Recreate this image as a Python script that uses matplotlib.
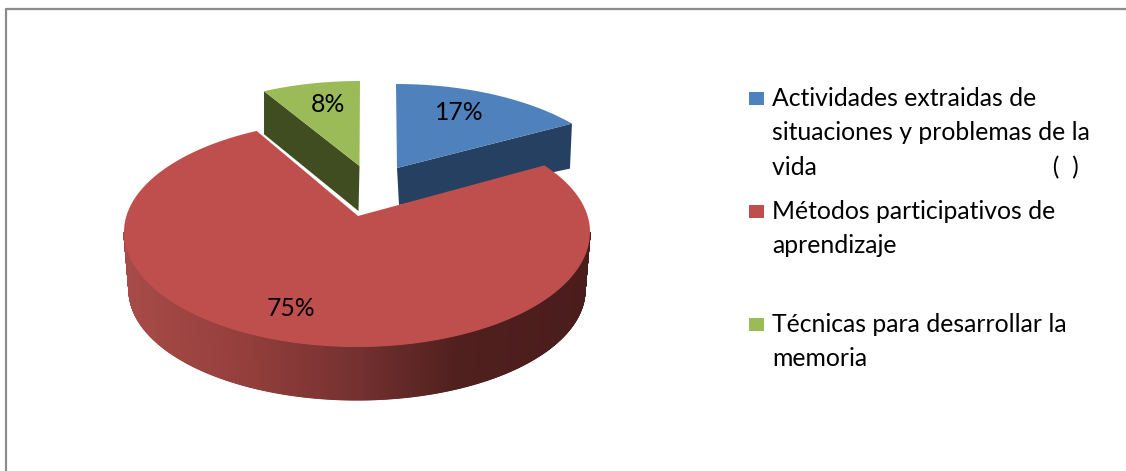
import numpy as np
import matplotlib
matplotlib.use("Agg")
import matplotlib.pyplot as plt
from matplotlib.colors import LinearSegmentedColormap

labels = ["Actividades extraidas de\nsituaciones y problemas de la\nvida" + " " * 37 + "(  )",
          "Métodos participativos de\naprendizaje",
          "Técnicas para desarrollar la\nmemoria"]
values = [17, 75, 8]
colors = ["#4F81BD", "#BE4F4C", "#9BBB59"]
wall_colors = ["#254061", "#7A302E", "#3F4D21"]

fig = plt.figure(figsize=(11.26, 4.71), dpi=100)
ax = fig.add_axes([0, 0, 1, 1])
ax.set_xlim(0, 1126)
ax.set_ylim(471, 0)
ax.axis("off")
FONT = "Lato"

# border (only top and left are visible in the crop)
ax.plot([6, 6, 1126], [471, 9, 9], color="#8c8c8c", lw=1.6, solid_capstyle="butt")

RX, RY = 233, 115
fractions = np.cumsum([0] + values) / sum(values) * 360.0
spans = {i: (fractions[i], fractions[i + 1]) for i in range(3)}


def warp(theta, rot, b):
    """Perspective skew of true pie angle to ellipse parameter (deg)."""
    return theta + rot - b * np.sin(np.radians(2 * theta))


def rim(theta, cx, cy, rx=RX, ry=RY, back_ry=None):
    t = np.radians(theta)
    c = np.cos(t)
    radius_y = np.where(c > 0, ry if back_ry is None else back_ry, ry)
    return np.column_stack([cx + rx * np.sin(t), cy - radius_y * c])


def top_poly(i, cx, cy, apex, rot, b, back_ry=None):
    th = np.linspace(*spans[i], 300)
    return np.vstack([[apex], rim(warp(th, rot, b), cx, cy, back_ry=back_ry)])


# green slice (back left)
g_c, g_apex = (360, 196), (359.5, 166)
g_pts = top_poly(2, *g_c, g_apex, 0, 5.3)
g_end = rim(np.array([warp(spans[2][0], 0, 5.3)]), *g_c)[0]
ax.fill([g_end[0], g_apex[0], g_apex[0] - 1, g_end[0]],
        [g_end[1], g_apex[1], g_apex[1] + 45, g_end[1] + 43],
        color=wall_colors[2], lw=0)
ax.fill(g_pts[:, 0], g_pts[:, 1], color=colors[2], lw=0)

# blue slice (back right)
b_c, b_apex = (396, 199), (397, 168)
b_pts = top_poly(0, *b_c, b_apex, 0, 14.4)
b_end = rim(np.array([warp(spans[0][1], 0, 14.4)]), *b_c)[0]
ax.fill([b_apex[0], b_end[0], b_end[0] - 2, b_apex[0] + 2],
        [b_apex[1], b_end[1], b_end[1] + 45, b_apex[1] + 37],
        color=wall_colors[0], lw=0)
ax.fill(b_pts[:, 0], b_pts[:, 1], color=colors[0], lw=0)

# red slice: gradient outer wall, then top
r_c, r_apex = (357, 232), (358, 216)
r_bot_c = (357, 290)
cmap = LinearSegmentedColormap.from_list(
    "wall", [(0, "#A64B48"), (0.25, "#953F3C"), (0.50, "#743130"),
             (0.72, "#4F201E"), (1, "#4A1C1B")])
edges = np.linspace(90, 270, 721)
for a, c in zip(edges[:-1], edges[1:]):
    up = rim(np.array([a, c]), *r_c)
    lo = rim(np.array([a, c]), *r_bot_c, rx=228, ry=110)
    frac = (np.mean(up[:, 0]) - (r_c[0] - RX)) / (2 * RX)
    col = cmap(frac)
    ax.fill([up[0, 0], up[1, 0], lo[1, 0], lo[0, 0]],
            [up[0, 1], up[1, 1], lo[1, 1], lo[0, 1]],
            color=col, lw=0.8, ec=col)
r_pts = top_poly(1, *r_c, r_apex, -2.2, 6.5, back_ry=112)
ax.fill(r_pts[:, 0], r_pts[:, 1], color=colors[1], lw=0)

# percentage labels
label_pos = [(459, 112), (291, 308), (328, 105)]
for v, (x, y) in zip(values, label_pos):
    ax.text(x, y, f"{v}%", ha="center", va="center", fontsize=17.8, family=FONT, color="black")

# legend
legend_y = [98, 211, 324]
for lab, col, y in zip(labels, colors, legend_y):
    ax.add_patch(plt.Rectangle((749, y - 6), 15, 13, color=col, lw=0))
    ax.text(772, y - 11, lab, ha="left", va="top", fontsize=17.8, family=FONT,
            color="black", linespacing=1.6)

fig.savefig("out.png", dpi=100)
